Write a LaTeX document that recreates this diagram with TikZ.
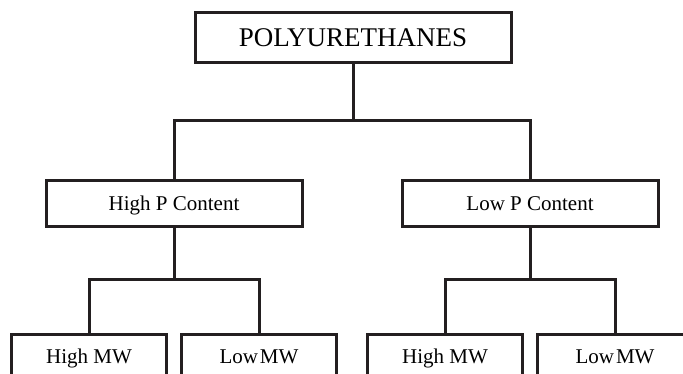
\documentclass[tikz,border=0pt]{standalone}
\usepackage{fontspec}
\setmainfont{Liberation Serif}
\usepackage{tikz}
\usetikzlibrary{positioning}
\definecolor{treeink}{HTML}{231F20}
\tikzset{
    rootbox/.style={rectangle, draw=treeink, line width=3pt, minimum width=316pt,
        minimum height=50pt, inner sep=0pt, outer sep=0pt, text height=17.8pt, text depth=0pt,
        font=\fontsize{27}{30}\selectfont},
    classbox/.style={rectangle, draw=treeink, line width=3pt, minimum width=256pt,
        minimum height=46pt, inner sep=0pt, outer sep=0pt, text height=13.9pt, text depth=0pt,
        font=\fontsize{21}{24}\selectfont},
    leafbox/.style={rectangle, draw=treeink, line width=3pt, minimum width=155pt,
        minimum height=46pt, inner sep=0pt, outer sep=0pt, text height=13.9pt, text depth=0pt,
        font=\fontsize{21}{24}\selectfont},
    fork/.style={draw=treeink, line width=3pt}
}

\begin{document}
\begin{tikzpicture}[x=1pt,y=1pt]
        \useasboundingbox (0,0) rectangle (683,-374);
        \clip (0,0) rectangle (683,-374);
        \node[rootbox] (pu) at (353,-38) {POLYURETHANES};
        \node[classbox,below=118pt of pu,xshift=-179pt] (highp) {High P Content};
        \node[classbox,below=118pt of pu,xshift=177pt] (lowp) {Low P Content};
        \node[leafbox,below=107pt of highp,xshift=-85pt] (hpHigh) {High MW};
        \node[leafbox,below=107pt of highp,xshift=85pt] (hpLow) {Low\kern2pt MW};
        \node[leafbox,below=107pt of lowp,xshift=-85pt] (lpHigh) {High MW};
        \node[leafbox,below=107pt of lowp,xshift=85pt] (lpLow) {Low\kern2pt MW};
        % branches
        \draw[fork] (pu.south) -- ++(0,-58) coordinate (puj);
        \draw[fork] (highp.north) |- (puj) -| (lowp.north);
        \draw[fork] (highp.south) -- ++(0,-53) coordinate (hpj);
        \draw[fork] (hpHigh.north) |- (hpj) -| (hpLow.north);
        \draw[fork] (lowp.south) -- ++(0,-53) coordinate (lpj);
        \draw[fork] (lpHigh.north) |- (lpj) -| (lpLow.north);
    \end{tikzpicture}
\end{document}
